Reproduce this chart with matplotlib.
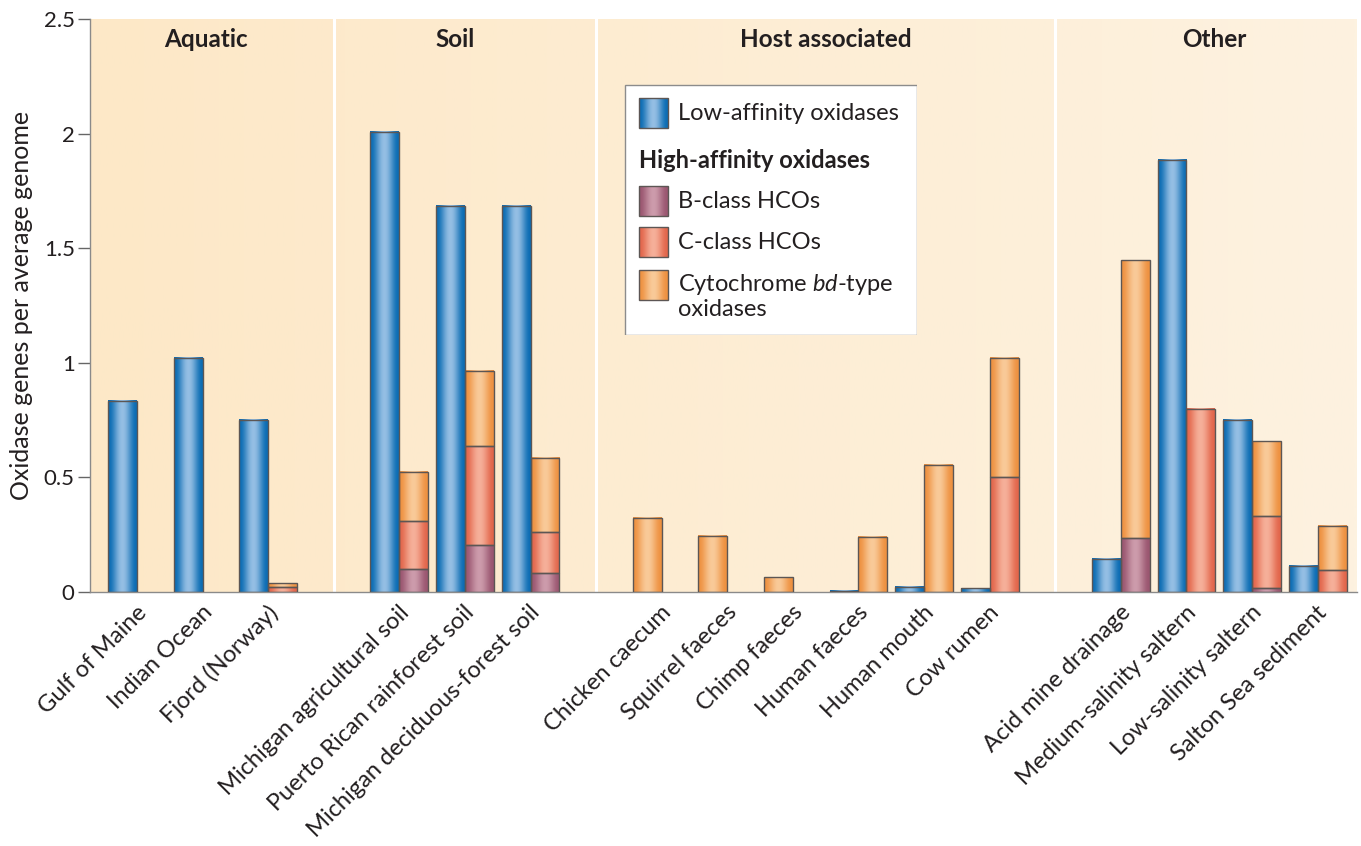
import numpy as np
import matplotlib
matplotlib.use("Agg")
import matplotlib.pyplot as plt
from matplotlib.colors import to_rgb
from matplotlib.patches import Rectangle

plt.rcParams["font.family"] = ["Lato", "DejaVu Sans"]
plt.rcParams["mathtext.fontset"] = "custom"
plt.rcParams["mathtext.rm"] = "Lato"
plt.rcParams["mathtext.it"] = "Lato:italic"

# --- data -------------------------------------------------------------------
groups = ["Aquatic", "Soil", "Host associated", "Other"]
group_sizes = [3, 3, 6, 4]
sites = [
    "Gulf of Maine", "Indian Ocean", "Fjord (Norway)",
    "Michigan agricultural soil", "Puerto Rican rainforest soil",
    "Michigan deciduous-forest soil",
    "Chicken caecum", "Squirrel faeces", "Chimp faeces", "Human faeces",
    "Human mouth", "Cow rumen",
    "Acid mine drainage", "Medium-salinity saltern", "Low-salinity saltern",
    "Salton Sea sediment",
]
low_affinity = [0.834, 1.022, 0.751, 2.009, 1.686, 1.686,
                0.0, 0.0, 0.0, 0.006, 0.022, 0.017,
                0.146, 1.886, 0.752, 0.115]
b_class = [0.0, 0.0, 0.0, 0.100, 0.205, 0.083,
           0.0, 0.0, 0.0, 0.0, 0.0, 0.0,
           0.237, 0.0, 0.019, 0.0]
c_class = [0.0, 0.0, 0.022, 0.210, 0.433, 0.179,
           0.0, 0.0, 0.0, 0.0, 0.0, 0.503,
           0.0, 0.800, 0.312, 0.095]
bd_type = [0.0, 0.0, 0.017, 0.215, 0.328, 0.324,
           0.325, 0.245, 0.064, 0.242, 0.555, 0.520,
           1.211, 0.0, 0.326, 0.193]

# --- style ------------------------------------------------------------------
BLUE = ("#0b6cb3", "#95bfe4")
BCLS = ("#9a5670", "#cd9cac")
CCLS = ("#e2664b", "#f6b09a")
BD = ("#ee9140", "#f9ca99")
EDGE = "#5c5654"
TEXT = "#231f20"
BAR_W = 0.44
FS = 17

# slot index of each site, leaving one empty slot between groups
slots = []
pos = 0
for n in group_sizes:
    slots.extend(range(pos, pos + n))
    pos += n + 1
slots = np.array(slots, dtype=float)
separators = np.cumsum(np.array(group_sizes) + 1)[:-1] - 1
title_x = [1.05, 4.85, 10.5, 16.43]

XMIN, XMAX = -0.716, 18.6


def shade(colors, n=64):
    u = np.linspace(0, 1, n)
    w = np.cos(np.pi * (u - 0.5)) ** 2
    d, l = np.array(to_rgb(colors[0])), np.array(to_rgb(colors[1]))
    return (d + (l - d) * w[:, None])[None, :, :]


def shaded_bars(ax, x, heights, bottoms, colors):
    bars = ax.bar(x, heights, BAR_W, bottom=bottoms, facecolor="none",
                  edgecolor=EDGE, lw=1.0, zorder=3)
    img = shade(colors)
    for p in bars:
        if p.get_height() <= 0:
            p.set_visible(False)
            continue
        x0, y0 = p.get_x(), p.get_y()
        ax.imshow(img, extent=(x0, x0 + p.get_width(), y0, y0 + p.get_height()),
                  aspect="auto", interpolation="bicubic", zorder=2)


fig = plt.figure(figsize=(13.61, 8.46), dpi=100)
ax = fig.add_axes([90 / 1361, 1 - 592 / 846, 1267 / 1361, 573 / 846])

# warm background, a little paler toward the right
bg_u = np.linspace(0, 1, 200)
c0, c1 = np.array(to_rgb("#fde8c7")), np.array(to_rgb("#fdf2e0"))
bg = (c0 + (c1 - c0) * bg_u[:, None])[None, :, :]
ax.imshow(bg, extent=(XMIN, XMAX, 0, 2.5), aspect="auto", zorder=0,
          interpolation="bilinear")
for s in separators:
    ax.axvline(s, color="white", lw=2.2, zorder=1)

low = np.array(low_affinity)
b = np.array(b_class)
c = np.array(c_class)
d = np.array(bd_type)

# high-affinity stack sits to the right of the blue bar, or takes its place
has_low = low > 0
x_low = slots - BAR_W / 2
x_high = np.where(has_low, slots + BAR_W / 2, slots - BAR_W / 2)

shaded_bars(ax, x_low, low, 0, BLUE)
shaded_bars(ax, x_high, b, 0, BCLS)
shaded_bars(ax, x_high, c, b, CCLS)
shaded_bars(ax, x_high, d, b + c, BD)

for name, gx in zip(groups, title_x):
    ax.text(gx, 2.41, name, ha="center", va="center", fontsize=17.5,
            fontweight="bold", color=TEXT)

ax.set_xlim(XMIN, XMAX)
ax.set_ylim(0, 2.5)
ax.set_yticks([0, 0.5, 1, 1.5, 2, 2.5], ["0", "0.5", "1", "1.5", "2", "2.5"])
ax.set_xticks(slots - 0.02, sites, rotation=45, ha="right",
              rotation_mode="anchor", fontsize=FS, color=TEXT)
ax.tick_params(axis="x", length=0, pad=7)
ax.tick_params(axis="y", length=9, width=1, color="#666666", labelsize=16,
               labelcolor=TEXT, pad=2)
for side in ("top", "right"):
    ax.spines[side].set_visible(False)
for side in ("left", "bottom"):
    ax.spines[side].set_color("#8a8a8a")
    ax.spines[side].set_linewidth(1.0)
ax.set_ylabel("Oxidase genes per average genome", fontsize=18, color=TEXT)
ax.yaxis.set_label_coords(-0.045, 0.5)

# legend panel drawn in its own pixel-unit axes
lax = fig.add_axes([624 / 1361, 1 - 335 / 846, 293 / 1361, 251 / 846])
lax.axis("off")
lax.add_patch(Rectangle((0.5, 0.5), 292, 250, facecolor="white",
                        edgecolor="#8c8c8c", lw=1.0))
entries = [
    (BLUE, 14, "Low-affinity oxidases"),
    (BCLS, 102, "B-class HCOs"),
    (CCLS, 143, "C-class HCOs"),
    (BD, 186, "Cytochrome $bd$-type\noxidases"),
]
for colors, y0, label in entries:
    lax.imshow(shade(colors), extent=(15, 44, y0 + 30, y0), aspect="auto",
               interpolation="bicubic", zorder=2)
    lax.add_patch(Rectangle((15, y0), 29, 30, facecolor="none",
                            edgecolor=EDGE, lw=1.0, zorder=3))
    if "\n" in label:
        lax.text(54, y0 + 2, label, ha="left", va="top", fontsize=FS,
                 color=TEXT, linespacing=1.1)
    else:
        lax.text(54, y0 + 15, label, ha="left", va="center", fontsize=FS,
                 color=TEXT)
lax.text(15, 76, "High-affinity oxidases", ha="left", va="center",
         fontsize=FS, fontweight="bold", color=TEXT)
lax.set_xlim(0, 293)
lax.set_ylim(251, 0)

fig.savefig("out.png", dpi=100)
